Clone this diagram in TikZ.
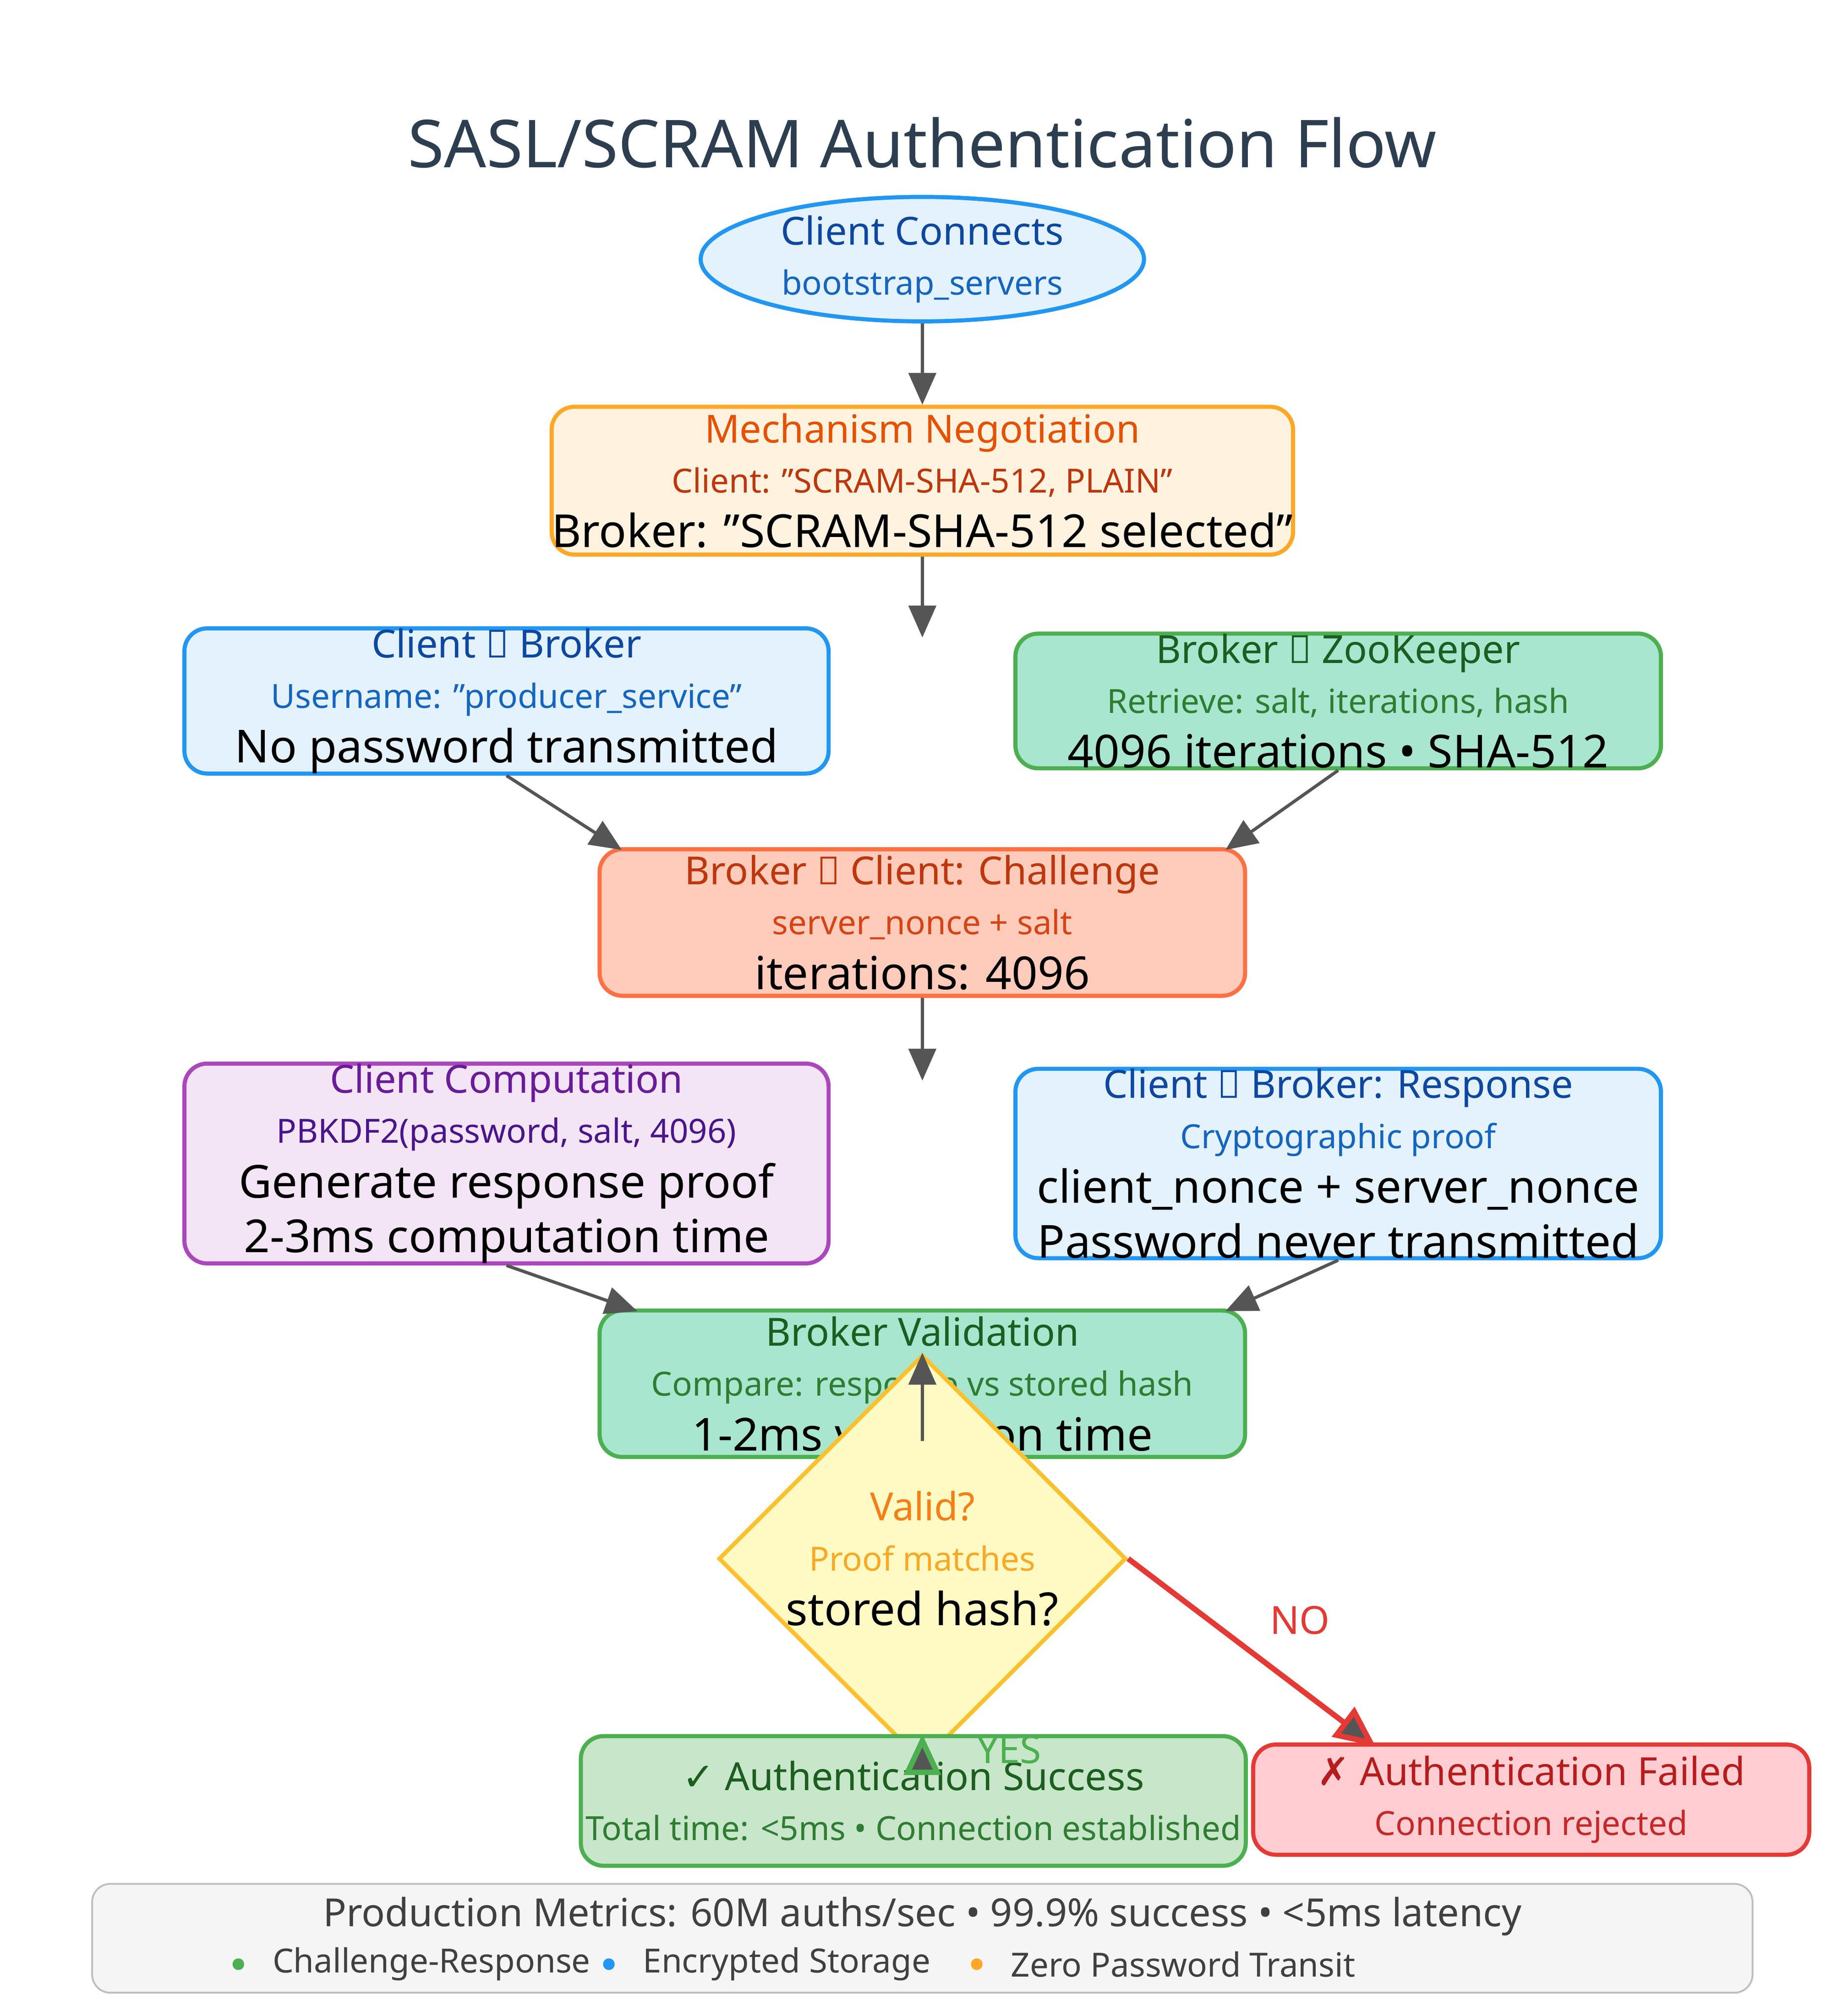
\documentclass[tikz,border=0pt]{standalone}
\usepackage{fontspec}
\setmainfont{Noto Sans}
\newfontfamily\symfont{DejaVu Sans}
\usetikzlibrary{shapes.geometric,arrows.meta}
\definecolor{bluefill}{HTML}{E3F2FD}\definecolor{bluedraw}{HTML}{2196F3}
\definecolor{bluehead}{HTML}{0D47A1}\definecolor{bluetext}{HTML}{1565C0}
\definecolor{orgfill}{HTML}{FFF3E0}\definecolor{orgdraw}{HTML}{FFA726}
\definecolor{orghead}{HTML}{E65100}\definecolor{orgtext}{HTML}{BF360C}
\definecolor{grnfill}{HTML}{A8E6CF}\definecolor{grndraw}{HTML}{4CAF50}
\definecolor{grnhead}{HTML}{1B5E20}\definecolor{grntext}{HTML}{2E7D32}
\definecolor{redfill}{HTML}{FFCCBC}\definecolor{reddraw}{HTML}{FF7043}
\definecolor{redhead}{HTML}{BF360C}\definecolor{redtext}{HTML}{D84315}
\definecolor{purfill}{HTML}{F3E5F5}\definecolor{purdraw}{HTML}{AB47BC}
\definecolor{purhead}{HTML}{6A1B9A}\definecolor{purtext}{HTML}{4A148C}
\definecolor{yelfill}{HTML}{FFF9C4}\definecolor{yeldraw}{HTML}{FBC02D}
\definecolor{yelhead}{HTML}{F57F17}\definecolor{yeltext}{HTML}{F9A825}
\definecolor{okfill}{HTML}{C8E6C9}
\definecolor{badfill}{HTML}{FFCDD2}\definecolor{baddraw}{HTML}{E53935}
\definecolor{badhead}{HTML}{B71C1C}\definecolor{badtext}{HTML}{C62828}
\definecolor{titlecol}{HTML}{2C3E50}\definecolor{arrowcol}{HTML}{555555}
\tikzset{
  card/.style={draw=#1draw, fill=#1fill, line width=0.9pt, rounded corners=5pt,
    inner sep=0pt, align=center},
  flow/.style={draw=arrowcol, line width=0.7pt, -{Triangle[length=7pt,width=6pt]}},
  sb/.style={font=\fontsize{7.3}{7.3}\selectfont},
}
\newcommand{\cardtext}[4]{\fontsize{8.5}{10}\selectfont\bfseries\color{#1}#3\\[-1pt]\fontsize{7.3}{7.2}\selectfont\mdseries\color{#2}#4}
\begin{document}
\begin{tikzpicture}[x=0.01cm,y=-0.01cm]
\useasboundingbox (0,0) rectangle (1414,1556);
% title
\node (title) at (712,110) {\fontsize{14.5}{16}\selectfont\bfseries\color{titlecol}SASL/SCRAM Authentication Flow};
% start
\node[ellipse, draw=bluedraw, fill=bluefill, line width=0.9pt, inner sep=0pt,
  minimum width=3.42cm, minimum height=0.96cm, align=center] (start) at (712,200)
  {\cardtext{bluehead}{bluetext}{Client Connects}{bootstrap\_servers}};
\node[card=org, minimum width=5.69cm, minimum height=1.14cm] (mech) at (712,371)
  {\cardtext{orghead}{orgtext}{Mechanism Negotiation}{Client: "SCRAM-SHA-512, PLAIN"\\Broker: "SCRAM-SHA-512 selected"}};
\node[card=blue, minimum width=4.97cm, minimum height=0.99cm] (user) at (391,541)
  {\cardtext{bluehead}{bluetext}{Client → Broker}{Username: "producer\_service"\\No password transmitted}};
\node[card=grn, minimum width=4.98cm, minimum height=0.99cm] (zk) at (1033,541)
  {\cardtext{grnhead}{grntext}{Broker → ZooKeeper}{Retrieve: salt, iterations, hash\\4096 iterations • SHA-512}};
\node[card=red, minimum width=4.98cm, minimum height=1.13cm] (chal) at (712,712)
  {\cardtext{redhead}{redtext}{Broker → Client: Challenge}{server\_nonce + salt\\iterations: 4096}};
\node[card=pur, minimum width=4.97cm, minimum height=1.28cm] (comp) at (391,898)
  {\cardtext{purhead}{purtext}{Client Computation}{PBKDF2(password, salt, 4096)\\Generate response proof\\2-3ms computation time}};
\node[card=blue, minimum width=4.98cm, minimum height=1.28cm] (resp) at (1033,898)
  {\cardtext{bluehead}{bluetext}{Client → Broker: Response}{Cryptographic proof\\client\_nonce + server\_nonce\\Password never transmitted}};
\node[card=grn, minimum width=4.98cm, minimum height=1.13cm] (valid) at (712,1068)
  {\cardtext{grnhead}{grntext}{Broker Validation}{Compare: response vs stored hash\\1-2ms validation time}};
\node[diamond, draw=yeldraw, fill=yelfill, line width=0.9pt, minimum width=2.3cm, minimum height=1.44cm,
  inner sep=0pt, align=center] (check) at (712,1203)
  {\cardtext{yelhead}{yeltext}{Valid?}{Proof matches\\stored hash?}};
\node[card=grn, fill=okfill, minimum width=5.13cm, minimum height=1.0cm] (ok) at (705,1390)
  {\cardtext{grnhead}{grntext}{{\symfont✓} Authentication Success}{Total time: <5ms • Connection established}};
\node[card=bad, minimum width=4.29cm, minimum height=0.85cm] (fail) at (1182,1389)
  {\cardtext{badhead}{badtext}{{\symfont✗} Authentication Failed}{Connection rejected}};
% arrows
\coordinate (gap1) at (712,492);
\coordinate (gap2) at (712,834);
\coordinate (failin) at (1062,1348);
\draw[flow] (start) -- (mech);
\draw[flow] (mech) -- (gap1);
\draw[flow] (user.south) -- (480,656);
\draw[flow] (zk.south) -- (946,656);
\draw[flow] (chal) -- (gap2);
\draw[flow] (comp.south) -- (492,1012);
\draw[flow] (resp.south) -- (946,1012);
\draw[flow] (712,1112) -- (check.north);
\draw[draw=grndraw, line width=1.2pt, -{Triangle[length=9pt,width=8pt,fill=arrowcol]}] (check.south) -- (ok.north -| check.south)
  node[midway, right=8pt, text=grndraw, font=\fontsize{8.5}{9}\selectfont\bfseries] {YES};
\draw[draw=baddraw, line width=1.2pt, -{Triangle[length=9pt,width=8pt,fill=arrowcol]}] (check.east) -- (failin)
  node[pos=0.5, above right=0pt, text=baddraw, font=\fontsize{8.5}{9}\selectfont\bfseries] {NO};
% metrics
\node[draw=black!25, fill=black!4, rounded corners=4pt, minimum width=12.81cm, minimum height=0.84cm] (metrics) at (712,1496) {};
\node[text=black!75!white, font=\fontsize{8.5}{9}\selectfont\bfseries] (mtitle) at (712,1479)
  {Production Metrics: 60M auths/sec • 99.9\% success • <5ms latency};
\fill[grndraw] (184,1516) circle (4.5);
\fill[bluedraw] (470,1516) circle (4.5);
\fill[orgdraw] (754,1516) circle (4.5);
\node[anchor=west, sb, text=black!75] (l1) at (198,1516) {Challenge-Response};
\node[anchor=west, sb, text=black!75] (l2) at (484,1516) {Encrypted Storage};
\node[anchor=west, sb, text=black!75] (l3) at (768,1516) {Zero Password Transit};
\end{tikzpicture}
\end{document}
